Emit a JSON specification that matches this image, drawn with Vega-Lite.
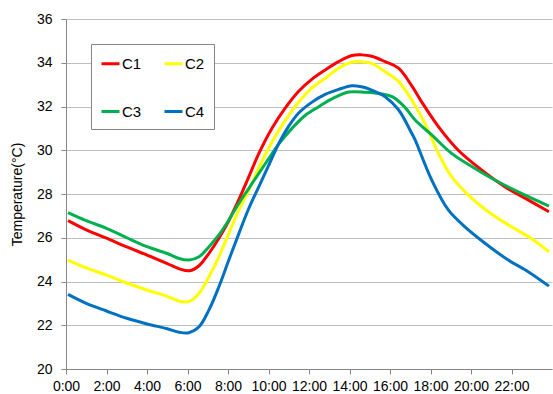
{
  "$schema": "https://vega.github.io/schema/vega-lite/v6.json",
  "width": 486,
  "height": 350,
  "autosize": {"type": "none"},
  "padding": {"left": 66, "top": 19, "right": 1, "bottom": 25},
  "background": "white",
  "config": {
    "view": {"stroke": null},
    "font": "Liberation Sans"
  },
  "data": {
    "values": [
      {"s": "C1", "h": 0.1, "t": 26.78}, {"s": "C1", "h": 1, "t": 26.36}, {"s": "C1", "h": 2, "t": 25.98}, {"s": "C1", "h": 3, "t": 25.58}, {"s": "C1", "h": 4, "t": 25.21}, {"s": "C1", "h": 5, "t": 24.82}, {"s": "C1", "h": 5.6, "t": 24.58}, {"s": "C1", "h": 6.1, "t": 24.49}, {"s": "C1", "h": 6.57, "t": 24.72}, {"s": "C1", "h": 7.06, "t": 25.29}, {"s": "C1", "h": 7.55, "t": 25.98}, {"s": "C1", "h": 8.04, "t": 26.78}, {"s": "C1", "h": 8.54, "t": 27.75}, {"s": "C1", "h": 9.03, "t": 28.79}, {"s": "C1", "h": 9.52, "t": 29.85}, {"s": "C1", "h": 10.18, "t": 31.02}, {"s": "C1", "h": 10.84, "t": 31.95}, {"s": "C1", "h": 11.49, "t": 32.7}, {"s": "C1", "h": 12.15, "t": 33.25}, {"s": "C1", "h": 12.8, "t": 33.67}, {"s": "C1", "h": 13.46, "t": 34.05}, {"s": "C1", "h": 14.12, "t": 34.33}, {"s": "C1", "h": 14.6, "t": 34.36}, {"s": "C1", "h": 15.1, "t": 34.3}, {"s": "C1", "h": 15.76, "t": 34.05}, {"s": "C1", "h": 16.42, "t": 33.75}, {"s": "C1", "h": 17.07, "t": 32.95}, {"s": "C1", "h": 17.57, "t": 32.2}, {"s": "C1", "h": 18.39, "t": 31.08}, {"s": "C1", "h": 19.37, "t": 30.0}, {"s": "C1", "h": 20.52, "t": 29.1}, {"s": "C1", "h": 21.67, "t": 28.33}, {"s": "C1", "h": 22.82, "t": 27.73}, {"s": "C1", "h": 23.85, "t": 27.19},

      {"s": "C2", "h": 0.1, "t": 24.98}, {"s": "C2", "h": 1, "t": 24.62}, {"s": "C2", "h": 2, "t": 24.29}, {"s": "C2", "h": 3, "t": 23.93}, {"s": "C2", "h": 4, "t": 23.61}, {"s": "C2", "h": 5, "t": 23.32}, {"s": "C2", "h": 5.6, "t": 23.1}, {"s": "C2", "h": 6.07, "t": 23.08}, {"s": "C2", "h": 6.57, "t": 23.46}, {"s": "C2", "h": 7.06, "t": 24.22}, {"s": "C2", "h": 7.55, "t": 25.13}, {"s": "C2", "h": 8.04, "t": 26.2}, {"s": "C2", "h": 8.54, "t": 27.27}, {"s": "C2", "h": 9.03, "t": 28.18}, {"s": "C2", "h": 9.52, "t": 29.2}, {"s": "C2", "h": 10.18, "t": 30.39}, {"s": "C2", "h": 10.84, "t": 31.38}, {"s": "C2", "h": 11.49, "t": 32.2}, {"s": "C2", "h": 12.15, "t": 32.85}, {"s": "C2", "h": 12.8, "t": 33.29}, {"s": "C2", "h": 13.46, "t": 33.75}, {"s": "C2", "h": 14.1, "t": 34.02}, {"s": "C2", "h": 14.6, "t": 34.05}, {"s": "C2", "h": 15.1, "t": 33.97}, {"s": "C2", "h": 15.76, "t": 33.59}, {"s": "C2", "h": 16.42, "t": 33.15}, {"s": "C2", "h": 17.07, "t": 32.3}, {"s": "C2", "h": 17.73, "t": 31.23}, {"s": "C2", "h": 18.39, "t": 29.86}, {"s": "C2", "h": 19.04, "t": 28.79}, {"s": "C2", "h": 19.87, "t": 27.95}, {"s": "C2", "h": 20.85, "t": 27.19}, {"s": "C2", "h": 22.0, "t": 26.5}, {"s": "C2", "h": 22.98, "t": 25.97}, {"s": "C2", "h": 23.85, "t": 25.36},

      {"s": "C3", "h": 0.1, "t": 27.15}, {"s": "C3", "h": 1, "t": 26.78}, {"s": "C3", "h": 2, "t": 26.43}, {"s": "C3", "h": 3, "t": 26.0}, {"s": "C3", "h": 4, "t": 25.59}, {"s": "C3", "h": 5, "t": 25.28}, {"s": "C3", "h": 5.58, "t": 25.05}, {"s": "C3", "h": 6.07, "t": 24.98}, {"s": "C3", "h": 6.57, "t": 25.13}, {"s": "C3", "h": 7.06, "t": 25.59}, {"s": "C3", "h": 7.55, "t": 26.13}, {"s": "C3", "h": 8.04, "t": 26.81}, {"s": "C3", "h": 8.54, "t": 27.58}, {"s": "C3", "h": 9.03, "t": 28.26}, {"s": "C3", "h": 9.52, "t": 28.94}, {"s": "C3", "h": 10.02, "t": 29.63}, {"s": "C3", "h": 10.5, "t": 30.28}, {"s": "C3", "h": 11.16, "t": 31.0}, {"s": "C3", "h": 11.82, "t": 31.6}, {"s": "C3", "h": 12.48, "t": 31.99}, {"s": "C3", "h": 13.13, "t": 32.35}, {"s": "C3", "h": 13.96, "t": 32.66}, {"s": "C3", "h": 14.78, "t": 32.65}, {"s": "C3", "h": 15.6, "t": 32.57}, {"s": "C3", "h": 16.17, "t": 32.42}, {"s": "C3", "h": 16.75, "t": 31.95}, {"s": "C3", "h": 17.24, "t": 31.38}, {"s": "C3", "h": 18.06, "t": 30.7}, {"s": "C3", "h": 19.04, "t": 29.86}, {"s": "C3", "h": 20.2, "t": 29.17}, {"s": "C3", "h": 21.34, "t": 28.56}, {"s": "C3", "h": 22.49, "t": 28.03}, {"s": "C3", "h": 23.85, "t": 27.45},

      {"s": "C4", "h": 0.1, "t": 23.41}, {"s": "C4", "h": 1, "t": 23.0}, {"s": "C4", "h": 2, "t": 22.65}, {"s": "C4", "h": 3, "t": 22.32}, {"s": "C4", "h": 4, "t": 22.06}, {"s": "C4", "h": 5, "t": 21.84}, {"s": "C4", "h": 5.59, "t": 21.68}, {"s": "C4", "h": 6.07, "t": 21.66}, {"s": "C4", "h": 6.57, "t": 21.93}, {"s": "C4", "h": 7.06, "t": 22.7}, {"s": "C4", "h": 7.55, "t": 23.76}, {"s": "C4", "h": 8.04, "t": 24.98}, {"s": "C4", "h": 8.54, "t": 26.2}, {"s": "C4", "h": 9.03, "t": 27.35}, {"s": "C4", "h": 9.52, "t": 28.33}, {"s": "C4", "h": 10.02, "t": 29.33}, {"s": "C4", "h": 10.5, "t": 30.3}, {"s": "C4", "h": 11.0, "t": 31.1}, {"s": "C4", "h": 11.49, "t": 31.7}, {"s": "C4", "h": 12.15, "t": 32.2}, {"s": "C4", "h": 12.8, "t": 32.55}, {"s": "C4", "h": 13.46, "t": 32.78}, {"s": "C4", "h": 14.12, "t": 32.95}, {"s": "C4", "h": 14.6, "t": 32.9}, {"s": "C4", "h": 15.1, "t": 32.75}, {"s": "C4", "h": 15.76, "t": 32.45}, {"s": "C4", "h": 16.42, "t": 31.85}, {"s": "C4", "h": 17.07, "t": 30.78}, {"s": "C4", "h": 17.24, "t": 30.47}, {"s": "C4", "h": 18.06, "t": 28.64}, {"s": "C4", "h": 18.88, "t": 27.27}, {"s": "C4", "h": 19.7, "t": 26.5}, {"s": "C4", "h": 20.69, "t": 25.75}, {"s": "C4", "h": 21.84, "t": 24.98}, {"s": "C4", "h": 22.82, "t": 24.45}, {"s": "C4", "h": 23.85, "t": 23.79}
    ]
  },
  "mark": {"type": "line", "strokeWidth": 3, "interpolate": "catmull-rom"},
  "encoding": {
    "x": {
      "field": "h",
      "type": "quantitative",
      "scale": {"domain": [0, 24], "nice": false, "zero": false},
      "axis": {
        "values": [0, 2, 4, 6, 8, 10, 12, 14, 16, 18, 20, 22],
        "labelExpr": "datum.value + ':00'",
        "title": null,
        "grid": false,
        "domainColor": "#868686",
        "tickColor": "#868686",
        "tickSize": 5,
        "labelPadding": 5,
        "labelFontSize": 14,
        "labelColor": "#000000",
        "labelFlush": false
      }
    },
    "y": {
      "field": "t",
      "type": "quantitative",
      "scale": {"domain": [20, 36], "nice": false, "zero": false},
      "axis": {
        "values": [20, 22, 24, 26, 28, 30, 32, 34, 36],
        "title": "Temperature(°C)",
        "titleFontSize": 14,
        "titleFontWeight": "normal",
        "titleColor": "#000000",
        "titlePadding": 12,
        "grid": true,
        "gridColor": "#bfbfbf",
        "gridWidth": 1,
        "domainColor": "#868686",
        "tickColor": "#868686",
        "tickSize": 5,
        "labelPadding": 9,
        "labelFontSize": 14,
        "labelColor": "#000000"
      }
    },
    "color": {
      "field": "s",
      "type": "nominal",
      "scale": {"domain": ["C1", "C2", "C3", "C4"], "range": ["#FF0000", "#FFFF00", "#00B050", "#0070C0"]},
      "legend": {
        "title": null,
        "orient": "none",
        "legendX": 25,
        "legendY": 25,
        "columns": 2,
        "direction": "horizontal",
        "columnPadding": 16,
        "rowPadding": 29,
        "padding": 9,
        "strokeColor": "#868686",
        "fillColor": "white",
        "symbolType": "stroke",
        "symbolSize": 324,
        "symbolStrokeWidth": 3,
        "labelFontSize": 15,
        "labelColor": "#000000",
        "labelOffset": 1
      }
    }
  }
}
